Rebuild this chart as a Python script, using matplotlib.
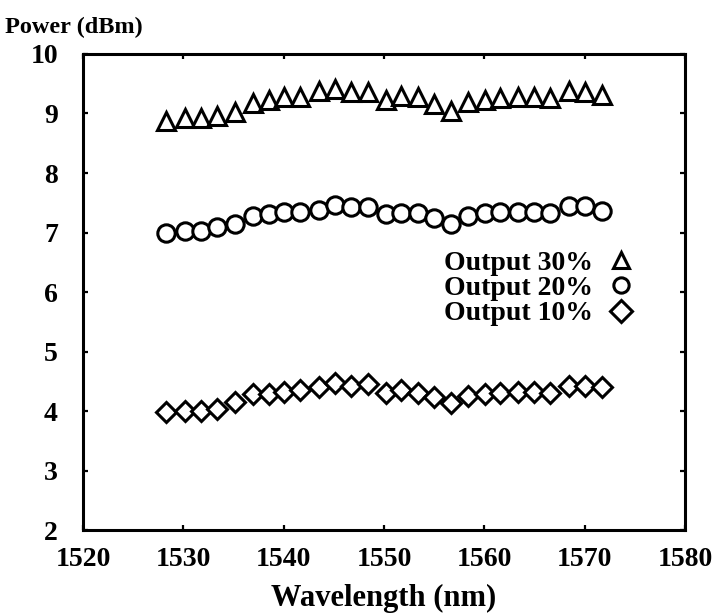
import matplotlib
matplotlib.use("Agg")
import matplotlib.pyplot as plt

# wavelength points (nm)
wavelength = [1528.3, 1530.2, 1531.8, 1533.4, 1535.2, 1536.9, 1538.5, 1540.0, 1541.6,
              1543.5, 1545.1, 1546.7, 1548.4, 1550.2, 1551.7, 1553.4, 1555.0, 1556.7,
              1558.4, 1560.1, 1561.6, 1563.4, 1565.0, 1566.5, 1568.4, 1570.0, 1571.7]

# output power (dBm)
out30 = [8.88, 8.93, 8.93, 8.96, 9.03, 9.18, 9.22, 9.28, 9.28, 9.37, 9.41, 9.36, 9.36,
         9.23, 9.30, 9.27, 9.16, 9.04, 9.19, 9.22, 9.26, 9.27, 9.27, 9.26, 9.37, 9.36, 9.31]
out20 = [7.00, 7.02, 7.03, 7.09, 7.14, 7.28, 7.32, 7.34, 7.34, 7.38, 7.47, 7.43, 7.43,
         7.31, 7.33, 7.33, 7.24, 7.15, 7.28, 7.33, 7.34, 7.34, 7.34, 7.33, 7.44, 7.44, 7.37]
out10 = [3.98, 4.00, 4.00, 4.04, 4.15, 4.28, 4.28, 4.33, 4.35, 4.41, 4.48, 4.42, 4.46,
         4.30, 4.35, 4.31, 4.24, 4.14, 4.25, 4.28, 4.31, 4.33, 4.33, 4.31, 4.42, 4.42, 4.40]

labels = ["Output 30%", "Output 20%", "Output 10%"]

plt.rcParams['font.family'] = 'Liberation Serif'
plt.rcParams['font.weight'] = 'bold'

fig = plt.figure(figsize=(7.15, 6.13), dpi=100)
ax = fig.add_axes([0.116, 0.135, 0.842, 0.777])

style = dict(linestyle='none', markerfacecolor='white', markeredgecolor='black', markeredgewidth=2.2)
ax.plot(wavelength, out30, marker='^', markersize=13.5, label=labels[0], **style)
ax.plot(wavelength, out20, marker='o', markersize=12.5, label=labels[1], **style)
ax.plot(wavelength, out10, marker='D', markersize=10, label=labels[2], **style)

ax.set_xlim(1520, 1580)
ax.set_ylim(2, 10)
ax.set_xticks(range(1520, 1581, 10))
ax.set_yticks(range(2, 11))

for s in ax.spines.values():
    s.set_linewidth(2.2)
ax.tick_params(axis='both', direction='in', top=True, right=True, length=3.5, width=1.6,
               labelsize=20)
ax.tick_params(axis='x', pad=12)
ax.tick_params(axis='y', pad=18)

ax.set_xlabel("Wavelength (nm)", fontsize=22, fontweight='bold', labelpad=9)
fig.text(0.007, 0.955, "Power (dBm)", fontsize=17.5, fontweight='bold', ha='left', va='center')

leg = ax.legend(loc='center right', bbox_to_anchor=(0.935, 0.508), frameon=False, markerfirst=False,
                fontsize=20, handlelength=0.8, handletextpad=0.6, labelspacing=0.0,
                borderpad=0)
for h in leg.legend_handles:
    h.set_markersize(11)

fig.savefig("out.png", dpi=100)
